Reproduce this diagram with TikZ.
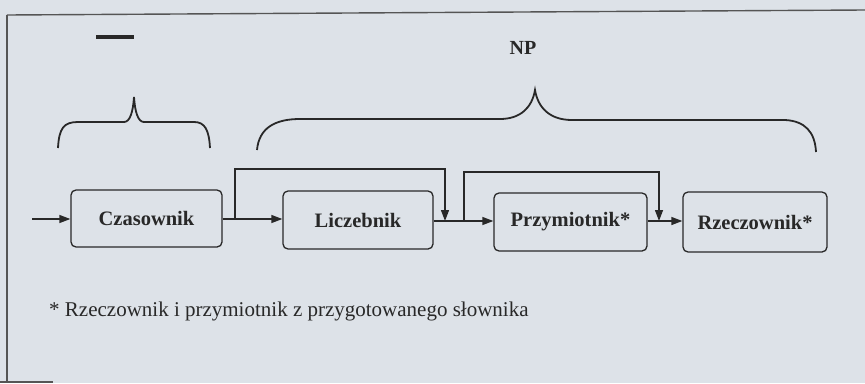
\documentclass[tikz,border=0pt]{standalone}
\usepackage{fontspec}
\setmainfont{Liberation Serif}
\usetikzlibrary{arrows.meta}
\definecolor{paper}{RGB}{221,226,232}
\definecolor{ink}{RGB}{40,40,40}
\definecolor{frameink}{RGB}{85,85,85}
\tikzset{
  wordbox/.style={draw=ink, line width=1.3pt, rounded corners=5pt, inner sep=0pt,
    font=\fontsize{20.5}{22}\selectfont\bfseries, text=ink},
  conn/.style={draw=ink, line width=1.3pt},
  arr/.style={conn, -{Triangle[length=11pt,width=8pt]}},
  bracepath/.style={draw=ink, line width=1.8pt},
  framepath/.style={draw=frameink, line width=1.4pt},
}
\begin{document}
\begin{tikzpicture}[x=1pt,y=-1pt]
\fill[paper] (0,0) rectangle (865,383);
\useasboundingbox (0,0) rectangle (865,383);
% frame
\draw[framepath] (7,15) -- (865,10);
\draw[framepath] (7,15) -- (7,383);
\draw[framepath] (0,382) -- (53,382);
% labels
\node[inner sep=0pt] (dash) at (115,37) {\color{ink}\rule{38pt}{3.2pt}};
\node[inner sep=0pt, text=ink, font=\fontsize{20}{22}\selectfont\bfseries] (np) at (523,48) {NP};
% braces
\draw[bracepath] (58,148) .. controls (59,128) and (64,122) .. (78,122) -- (124,122)
  .. controls (130,122) and (133,112) .. (134,97)
  .. controls (135,112) and (138,122) .. (144,122) -- (194,122)
  .. controls (205,122) and (209,130) .. (210,148);
\draw[bracepath] (257,150) .. controls (259,128) and (275,119) .. (300,119) -- (500,119)
  .. controls (520,119) and (532,108) .. (535,90)
  .. controls (538,108) and (550,120) .. (572,120) -- (785,120)
  .. controls (805,121) and (815,132) .. (816,152);
% boxes
\node[wordbox, minimum width=151pt, minimum height=57pt] (czas) at (146.5,218.5) {Czasownik};
\node[wordbox, minimum width=150pt, minimum height=58pt] (licz) at (358,220) {Liczebnik};
\node[wordbox, minimum width=153pt, minimum height=58pt] (przy) at (570.5,222) {Przymiotnik*};
\node[wordbox, minimum width=144pt, minimum height=60pt] (rzecz) at (755,222) {Rzeczownik*};
% connectors
\coordinate (in) at (32,219);
\coordinate (b1) at (235,219);
\coordinate (j1) at (445,221);
\coordinate (b2) at (464,221);
\coordinate (j2) at (659,221);
\draw[arr] (in) -- (czas.west |- in);
\draw[arr] (czas.east |- b1) -- (licz.west |- b1);
\draw[arr] (b1) -- ++(0,-50) -| (j1);
\draw[arr] (licz.east |- j1) -- (przy.west |- j1);
\draw[arr] (b2) -- ++(0,-49) -| (j2);
\draw[arr] (przy.east |- j2) -- (rzecz.west |- j2);
% footnote
\node[anchor=base west, inner sep=0pt, text=ink, font=\fontsize{21}{23}\selectfont] (foot) at (49,316)
  {* Rzeczownik i przymiotnik z przygotowanego słownika};
\end{tikzpicture}
\end{document}
